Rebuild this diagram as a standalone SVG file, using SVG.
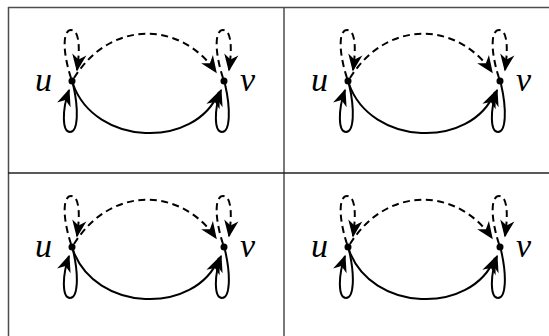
<svg xmlns="http://www.w3.org/2000/svg" width="549" height="336" viewBox="0 0 549 336">
<style>
.grid{stroke:#4d4d4d;stroke-width:1.5;fill:none}
.e{fill:none;stroke:#000;stroke-width:2}
.d{stroke-dasharray:7,4.5}
.lbl{font-family:"Liberation Serif",serif;font-style:italic;font-size:34px;fill:#000}
</style>
<defs>
<marker id="ah" markerUnits="userSpaceOnUse" markerWidth="20" markerHeight="20" refX="0" refY="0" orient="auto" overflow="visible" viewBox="-12 -6 14 12">
<path d="M1,0 L-11,-5 L-7.5,0 L-11,5 Z" fill="#000"/>
</marker>
</defs>
<g id="table">
<line class="grid" x1="8" y1="7.5" x2="549" y2="7.5"/>
<line class="grid" x1="8.5" y1="7" x2="8.5" y2="336"/>
<line class="grid" x1="284" y1="7" x2="284" y2="336"/>
<line class="grid" x1="8" y1="173" x2="549" y2="173" style="stroke:#222"/>
</g>
<g id="connectors">
<g transform="translate(0,0)">
<path class="e" d="M73,84 C95,146 195,150 219,92" marker-end="url(#ah)"/>
<path class="e d" d="M74,78 C110,20 180,20 216,72" marker-end="url(#ah)"/>
<path class="e d" d="M71,78 C62,50 63,30 71,30 C80,30 80,50 77,70" marker-end="url(#ah)"/>
<path class="e d" d="M223,78 C214,50 215,30 223,30 C232,30 232,50 229,70" marker-end="url(#ah)"/>
<path class="e" d="M73,84 C79,110 78,132 70,132 C62,132 62,110 69,90" marker-end="url(#ah)"/>
<path class="e" d="M225,84 C231,110 230,132 222,132 C214,132 214,110 221,90" marker-end="url(#ah)"/>
</g>
<g transform="translate(276,0)">
<path class="e" d="M73,84 C95,146 195,150 219,92" marker-end="url(#ah)"/>
<path class="e d" d="M74,78 C110,20 180,20 216,72" marker-end="url(#ah)"/>
<path class="e d" d="M71,78 C62,50 63,30 71,30 C80,30 80,50 77,70" marker-end="url(#ah)"/>
<path class="e d" d="M223,78 C214,50 215,30 223,30 C232,30 232,50 229,70" marker-end="url(#ah)"/>
<path class="e" d="M73,84 C79,110 78,132 70,132 C62,132 62,110 69,90" marker-end="url(#ah)"/>
<path class="e" d="M225,84 C231,110 230,132 222,132 C214,132 214,110 221,90" marker-end="url(#ah)"/>
</g>
<g transform="translate(0,166)">
<path class="e" d="M73,84 C95,146 195,150 219,92" marker-end="url(#ah)"/>
<path class="e d" d="M74,78 C110,20 180,20 216,72" marker-end="url(#ah)"/>
<path class="e d" d="M71,78 C62,50 63,30 71,30 C80,30 80,50 77,70" marker-end="url(#ah)"/>
<path class="e d" d="M223,78 C214,50 215,30 223,30 C232,30 232,50 229,70" marker-end="url(#ah)"/>
<path class="e" d="M73,84 C79,110 78,132 70,132 C62,132 62,110 69,90" marker-end="url(#ah)"/>
<path class="e" d="M225,84 C231,110 230,132 222,132 C214,132 214,110 221,90" marker-end="url(#ah)"/>
</g>
<g transform="translate(276,166)">
<path class="e" d="M73,84 C95,146 195,150 219,92" marker-end="url(#ah)"/>
<path class="e d" d="M74,78 C110,20 180,20 216,72" marker-end="url(#ah)"/>
<path class="e d" d="M71,78 C62,50 63,30 71,30 C80,30 80,50 77,70" marker-end="url(#ah)"/>
<path class="e d" d="M223,78 C214,50 215,30 223,30 C232,30 232,50 229,70" marker-end="url(#ah)"/>
<path class="e" d="M73,84 C79,110 78,132 70,132 C62,132 62,110 69,90" marker-end="url(#ah)"/>
<path class="e" d="M225,84 C231,110 230,132 222,132 C214,132 214,110 221,90" marker-end="url(#ah)"/>
</g>
</g>
<g id="u1"><circle cx="72" cy="81" r="3.5"/><text class="lbl" x="35" y="91">u</text></g>
<g id="v1"><circle cx="224" cy="81" r="3.5"/><text class="lbl" x="240" y="91">v</text></g>
<g id="u2"><circle cx="348" cy="81" r="3.5"/><text class="lbl" x="311" y="91">u</text></g>
<g id="v2"><circle cx="500" cy="81" r="3.5"/><text class="lbl" x="516" y="91">v</text></g>
<g id="u3"><circle cx="72" cy="247" r="3.5"/><text class="lbl" x="35" y="257">u</text></g>
<g id="v3"><circle cx="224" cy="247" r="3.5"/><text class="lbl" x="240" y="257">v</text></g>
<g id="u4"><circle cx="348" cy="247" r="3.5"/><text class="lbl" x="311" y="257">u</text></g>
<g id="v4"><circle cx="500" cy="247" r="3.5"/><text class="lbl" x="516" y="257">v</text></g>
</svg>
